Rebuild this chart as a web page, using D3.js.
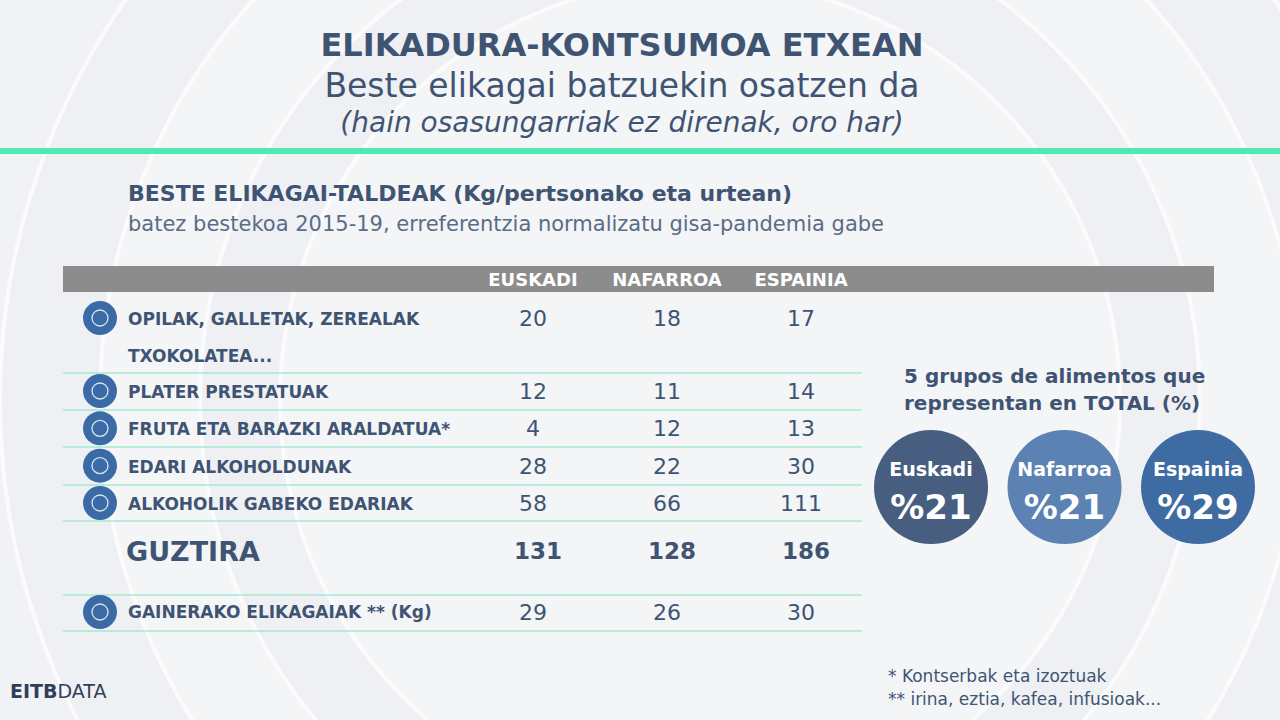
<!DOCTYPE html>
<html><head><meta charset="utf-8">
<script src="https://cdn.jsdelivr.net/npm/d3@7"></script>
<style>body{margin:0;background:#eef0f3}svg{display:block}text{font-family:"DejaVu Sans",sans-serif}</style>
</head><body><div id="chart"></div>
<script>
// data
var regions = ["EUSKADI", "NAFARROA", "ESPAINIA"];
var groups = ["OPILAK, GALLETAK, ZEREALAK", "PLATER PRESTATUAK", "FRUTA ETA BARAZKI ARALDATUA*", "EDARI ALKOHOLDUNAK", "ALKOHOLIK GABEKO EDARIAK"];
var euskadi = [20, 12, 4, 28, 58];
var nafarroa = [18, 11, 12, 22, 66];
var espainia = [17, 14, 13, 30, 111];
var totals = [131, 128, 186];
var others = [29, 26, 30];
var shareNames = ["Euskadi", "Nafarroa", "Espainia"];
var shares = [21, 21, 29];
var shareColors = ["#475e80", "#5b82b3", "#3f6ba3"];

var W = 1280, H = 720, ink = "#3f5473";
var svg = d3.select("#chart").append("svg").attr("width", W).attr("height", H);

// background
var bg = svg.append("g");
bg.append("rect").attr("width", W).attr("height", H).attr("fill", "#f1f2f5");
[700, 600, 500, 420].forEach(function(r, i){
  bg.append("circle").attr("cx", 700).attr("cy", 400).attr("r", r)
    .attr("fill", i % 2 ? "#f4f5f7" : "#eff0f3").attr("stroke", "#fbfbfc").attr("stroke-width", 4);
});

// titles
svg.append("text").attr("x", 622).attr("y", 56).attr("text-anchor", "middle")
  .attr("font-size", 32).attr("font-weight", 700).attr("fill", ink).text("ELIKADURA-KONTSUMOA ETXEAN");
svg.append("text").attr("x", 622).attr("y", 97).attr("text-anchor", "middle")
  .attr("font-size", 33).attr("fill", ink).text("Beste elikagai batzuekin osatzen da");
svg.append("text").attr("x", 622).attr("y", 132).attr("text-anchor", "middle")
  .attr("font-size", 28).attr("font-style", "italic").attr("fill", ink).text("(hain osasungarriak ez direnak, oro har)");
svg.append("rect").attr("x", 0).attr("y", 148).attr("width", W).attr("height", 6).attr("fill", "#52e8b4");

svg.append("text").attr("x", 128).attr("y", 201).attr("font-size", 22).attr("font-weight", 700)
  .attr("fill", ink).text("BESTE ELIKAGAI-TALDEAK (Kg/pertsonako eta urtean)");
svg.append("text").attr("x", 128).attr("y", 231).attr("font-size", 21).attr("fill", "#5a6c86")
  .text("batez bestekoa 2015-19, erreferentzia normalizatu gisa-pandemia gabe");

// table
var x = d3.scalePoint().domain(regions).range([533, 801]);
var y = d3.scalePoint().domain(groups.slice(1)).range([391, 503]);
var rowY = function(g, i){ return i == 0 ? 318 : y(g); };
var cols = [euskadi, nafarroa, espainia];

svg.append("rect").attr("x", 63).attr("y", 266).attr("width", 1151).attr("height", 26).attr("fill", "#8c8c8c");
svg.selectAll(".hd").data(regions).join("text").attr("x", function(d){ return x(d); }).attr("y", 286)
  .attr("text-anchor", "middle").attr("font-size", 18).attr("font-weight", 700).attr("fill", "#fff").text(function(d){ return d; });

var lines = [373, 410, 447, 485, 521, 595, 631];
svg.selectAll(".sep").data(lines).join("line").attr("x1", 63).attr("x2", 862)
  .attr("y1", function(d){ return d; }).attr("y2", function(d){ return d; })
  .attr("stroke", "#7fe3c0").attr("stroke-width", 1.2);

function icon(cy){
  svg.append("circle").attr("cx", 100).attr("cy", cy).attr("r", 17).attr("fill", "#3a6ba6");
  svg.append("circle").attr("cx", 100).attr("cy", cy).attr("r", 8).attr("fill", "none").attr("stroke", "#d8e4f2").attr("stroke-width", 1.3);
}

groups.forEach(function(g, i){
  var yy = rowY(g, i);
  icon(yy);
  svg.append("text").attr("x", 128).attr("y", yy + 7).attr("font-size", 17).attr("font-weight", 700)
    .attr("fill", ink).text(g);
  regions.forEach(function(r, j){
    svg.append("text").attr("x", x(r)).attr("y", yy + 8).attr("text-anchor", "middle")
      .attr("font-size", 22).attr("fill", ink).text(cols[j][i]);
  });
});
svg.append("text").attr("x", 128).attr("y", 362).attr("font-size", 17).attr("font-weight", 700)
  .attr("fill", ink).text("TXOKOLATEA...");

svg.append("text").attr("x", 126).attr("y", 561).attr("font-size", 27).attr("font-weight", 800)
  .attr("fill", ink).text("GUZTIRA");
regions.forEach(function(r, j){
  svg.append("text").attr("x", x(r) + 5).attr("y", 559).attr("text-anchor", "middle")
    .attr("font-size", 23).attr("font-weight", 800).attr("fill", ink).text(totals[j]);
  svg.append("text").attr("x", x(r)).attr("y", 620).attr("text-anchor", "middle")
    .attr("font-size", 22).attr("fill", ink).text(others[j]);
});
icon(612);
svg.append("text").attr("x", 128).attr("y", 618).attr("font-size", 17).attr("font-weight", 700)
  .attr("fill", ink).text("GAINERAKO ELIKAGAIAK ** (Kg)");

// shares
svg.append("text").attr("x", 904).attr("y", 383).attr("font-size", 20).attr("font-weight", 700)
  .attr("fill", ink).text("5 grupos de alimentos que");
svg.append("text").attr("x", 904).attr("y", 410).attr("font-size", 20).attr("font-weight", 700)
  .attr("fill", ink).text("representan en TOTAL (%)");
var cx = d3.scalePoint().domain(shareNames).range([931, 1198]);
shareNames.forEach(function(n, i){
  var c = cx(n);
  svg.append("circle").attr("cx", c).attr("cy", 487).attr("r", 57).attr("fill", shareColors[i]);
  svg.append("text").attr("x", c).attr("y", 476).attr("text-anchor", "middle").attr("font-size", 19)
    .attr("font-weight", 700).attr("fill", "#fff").text(n);
  svg.append("text").attr("x", c).attr("y", 519).attr("text-anchor", "middle").attr("font-size", 34)
    .attr("font-weight", 800).attr("fill", "#fff").text("%" + shares[i]);
});

svg.append("text").attr("x", 888).attr("y", 682).attr("font-size", 17).attr("fill", ink).text("* Kontserbak eta izoztuak");
svg.append("text").attr("x", 888).attr("y", 705).attr("font-size", 17).attr("fill", ink).text("** irina, eztia, kafea, infusioak...");
var logo = svg.append("text").attr("x", 10).attr("y", 698).attr("font-size", 19).attr("fill", "#2f3f5a");
logo.append("tspan").attr("font-weight", 700).text("EITB");
logo.append("tspan").text("DATA");
</script></body></html>
